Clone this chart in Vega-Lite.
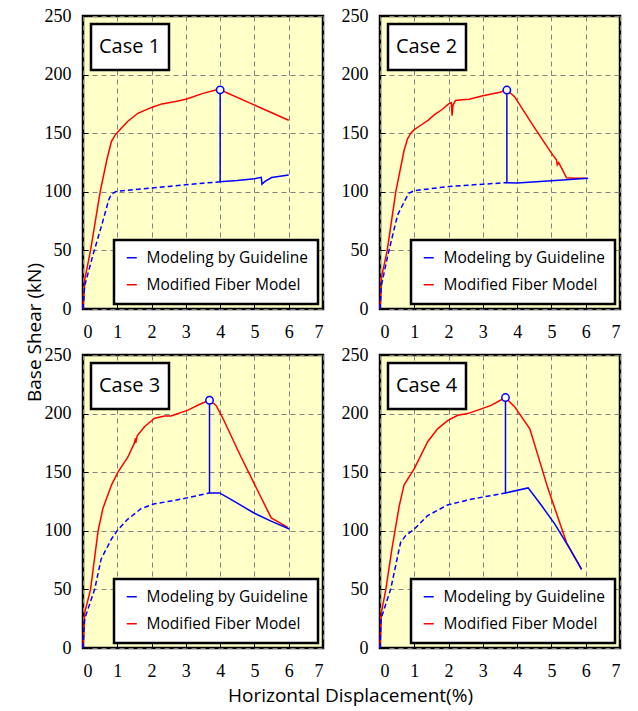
{
  "$schema": "https://vega.github.io/schema/vega-lite/v6.json",
  "background": "white",
  "padding": {"left": 23, "top": 5, "right": 5, "bottom": 5},
  "datasets": {
    "curves": [
      {"case":"Case 1","series":"Modified Fiber Model","part":"fiber","x":0,"y":0},
      {"case":"Case 1","series":"Modified Fiber Model","part":"fiber","x":0.05,"y":25},
      {"case":"Case 1","series":"Modified Fiber Model","part":"fiber","x":0.22,"y":50},
      {"case":"Case 1","series":"Modified Fiber Model","part":"fiber","x":0.5,"y":100},
      {"case":"Case 1","series":"Modified Fiber Model","part":"fiber","x":0.7,"y":128},
      {"case":"Case 1","series":"Modified Fiber Model","part":"fiber","x":0.83,"y":143},
      {"case":"Case 1","series":"Modified Fiber Model","part":"fiber","x":0.95,"y":149},
      {"case":"Case 1","series":"Modified Fiber Model","part":"fiber","x":1.05,"y":152},
      {"case":"Case 1","series":"Modified Fiber Model","part":"fiber","x":1.3,"y":160},
      {"case":"Case 1","series":"Modified Fiber Model","part":"fiber","x":1.6,"y":167},
      {"case":"Case 1","series":"Modified Fiber Model","part":"fiber","x":2.0,"y":172},
      {"case":"Case 1","series":"Modified Fiber Model","part":"fiber","x":2.3,"y":175},
      {"case":"Case 1","series":"Modified Fiber Model","part":"fiber","x":2.7,"y":177},
      {"case":"Case 1","series":"Modified Fiber Model","part":"fiber","x":3.0,"y":179},
      {"case":"Case 1","series":"Modified Fiber Model","part":"fiber","x":3.5,"y":184},
      {"case":"Case 1","series":"Modified Fiber Model","part":"fiber","x":3.9,"y":187},
      {"case":"Case 1","series":"Modified Fiber Model","part":"fiber","x":4.0,"y":187},
      {"case":"Case 1","series":"Modified Fiber Model","part":"fiber","x":6.0,"y":161},
      {"case":"Case 1","series":"Modeling by Guideline","part":"pre","x":0,"y":0},
      {"case":"Case 1","series":"Modeling by Guideline","part":"pre","x":0.05,"y":20},
      {"case":"Case 1","series":"Modeling by Guideline","part":"pre","x":0.3,"y":47},
      {"case":"Case 1","series":"Modeling by Guideline","part":"pre","x":0.55,"y":72},
      {"case":"Case 1","series":"Modeling by Guideline","part":"pre","x":0.75,"y":93},
      {"case":"Case 1","series":"Modeling by Guideline","part":"pre","x":0.83,"y":98},
      {"case":"Case 1","series":"Modeling by Guideline","part":"pre","x":0.95,"y":100},
      {"case":"Case 1","series":"Modeling by Guideline","part":"pre","x":1.0,"y":100.5},
      {"case":"Case 1","series":"Modeling by Guideline","part":"pre","x":1.5,"y":101.8},
      {"case":"Case 1","series":"Modeling by Guideline","part":"pre","x":2.0,"y":103.2},
      {"case":"Case 1","series":"Modeling by Guideline","part":"pre","x":2.5,"y":104.6},
      {"case":"Case 1","series":"Modeling by Guideline","part":"pre","x":3.0,"y":106},
      {"case":"Case 1","series":"Modeling by Guideline","part":"pre","x":3.5,"y":107.3},
      {"case":"Case 1","series":"Modeling by Guideline","part":"pre","x":4.0,"y":108.6},
      {"case":"Case 1","series":"Modeling by Guideline","part":"post","x":4.0,"y":187},
      {"case":"Case 1","series":"Modeling by Guideline","part":"post","x":4.0,"y":108.6},
      {"case":"Case 1","series":"Modeling by Guideline","part":"post","x":4.5,"y":109.7},
      {"case":"Case 1","series":"Modeling by Guideline","part":"post","x":5.0,"y":111.2},
      {"case":"Case 1","series":"Modeling by Guideline","part":"post","x":5.2,"y":112.3},
      {"case":"Case 1","series":"Modeling by Guideline","part":"post","x":5.22,"y":106.5},
      {"case":"Case 1","series":"Modeling by Guideline","part":"post","x":5.3,"y":108.6},
      {"case":"Case 1","series":"Modeling by Guideline","part":"post","x":5.5,"y":112.2},
      {"case":"Case 1","series":"Modeling by Guideline","part":"post","x":5.8,"y":113.5},
      {"case":"Case 1","series":"Modeling by Guideline","part":"post","x":6.0,"y":114.3},
      {"case":"Case 1","series":"peak","part":"peak","x":4.0,"y":187},

      {"case":"Case 2","series":"Modified Fiber Model","part":"fiber","x":0,"y":0},
      {"case":"Case 2","series":"Modified Fiber Model","part":"fiber","x":0.05,"y":28},
      {"case":"Case 2","series":"Modified Fiber Model","part":"fiber","x":0.21,"y":50},
      {"case":"Case 2","series":"Modified Fiber Model","part":"fiber","x":0.46,"y":100},
      {"case":"Case 2","series":"Modified Fiber Model","part":"fiber","x":0.7,"y":135},
      {"case":"Case 2","series":"Modified Fiber Model","part":"fiber","x":0.8,"y":145},
      {"case":"Case 2","series":"Modified Fiber Model","part":"fiber","x":0.9,"y":150},
      {"case":"Case 2","series":"Modified Fiber Model","part":"fiber","x":1.0,"y":153},
      {"case":"Case 2","series":"Modified Fiber Model","part":"fiber","x":1.2,"y":157},
      {"case":"Case 2","series":"Modified Fiber Model","part":"fiber","x":1.4,"y":161},
      {"case":"Case 2","series":"Modified Fiber Model","part":"fiber","x":1.6,"y":166},
      {"case":"Case 2","series":"Modified Fiber Model","part":"fiber","x":1.8,"y":170},
      {"case":"Case 2","series":"Modified Fiber Model","part":"fiber","x":2.0,"y":175},
      {"case":"Case 2","series":"Modified Fiber Model","part":"fiber","x":2.08,"y":176},
      {"case":"Case 2","series":"Modified Fiber Model","part":"fiber","x":2.1,"y":165},
      {"case":"Case 2","series":"Modified Fiber Model","part":"fiber","x":2.13,"y":174},
      {"case":"Case 2","series":"Modified Fiber Model","part":"fiber","x":2.2,"y":178},
      {"case":"Case 2","series":"Modified Fiber Model","part":"fiber","x":2.4,"y":178.5},
      {"case":"Case 2","series":"Modified Fiber Model","part":"fiber","x":2.6,"y":179},
      {"case":"Case 2","series":"Modified Fiber Model","part":"fiber","x":3.0,"y":182},
      {"case":"Case 2","series":"Modified Fiber Model","part":"fiber","x":3.5,"y":185},
      {"case":"Case 2","series":"Modified Fiber Model","part":"fiber","x":3.7,"y":187},
      {"case":"Case 2","series":"Modified Fiber Model","part":"fiber","x":3.93,"y":181},
      {"case":"Case 2","series":"Modified Fiber Model","part":"fiber","x":4.5,"y":155},
      {"case":"Case 2","series":"Modified Fiber Model","part":"fiber","x":5.0,"y":133},
      {"case":"Case 2","series":"Modified Fiber Model","part":"fiber","x":5.15,"y":127},
      {"case":"Case 2","series":"Modified Fiber Model","part":"fiber","x":5.17,"y":123},
      {"case":"Case 2","series":"Modified Fiber Model","part":"fiber","x":5.21,"y":125},
      {"case":"Case 2","series":"Modified Fiber Model","part":"fiber","x":5.3,"y":120},
      {"case":"Case 2","series":"Modified Fiber Model","part":"fiber","x":5.44,"y":112},
      {"case":"Case 2","series":"Modified Fiber Model","part":"fiber","x":5.7,"y":111.5},
      {"case":"Case 2","series":"Modified Fiber Model","part":"fiber","x":6.0,"y":111.5},
      {"case":"Case 2","series":"Modeling by Guideline","part":"pre","x":0,"y":0},
      {"case":"Case 2","series":"Modeling by Guideline","part":"pre","x":0.04,"y":20},
      {"case":"Case 2","series":"Modeling by Guideline","part":"pre","x":0.23,"y":46},
      {"case":"Case 2","series":"Modeling by Guideline","part":"pre","x":0.51,"y":80},
      {"case":"Case 2","series":"Modeling by Guideline","part":"pre","x":0.75,"y":94},
      {"case":"Case 2","series":"Modeling by Guideline","part":"pre","x":0.85,"y":99},
      {"case":"Case 2","series":"Modeling by Guideline","part":"pre","x":1.0,"y":101},
      {"case":"Case 2","series":"Modeling by Guideline","part":"pre","x":2.0,"y":104.5},
      {"case":"Case 2","series":"Modeling by Guideline","part":"pre","x":3.0,"y":106.5},
      {"case":"Case 2","series":"Modeling by Guideline","part":"pre","x":3.7,"y":107.8},
      {"case":"Case 2","series":"Modeling by Guideline","part":"post","x":3.7,"y":187},
      {"case":"Case 2","series":"Modeling by Guideline","part":"post","x":3.7,"y":107.8},
      {"case":"Case 2","series":"Modeling by Guideline","part":"post","x":4.0,"y":107.6},
      {"case":"Case 2","series":"Modeling by Guideline","part":"post","x":5.0,"y":109.5},
      {"case":"Case 2","series":"Modeling by Guideline","part":"post","x":6.07,"y":111.5},
      {"case":"Case 2","series":"peak","part":"peak","x":3.7,"y":186.8},

      {"case":"Case 3","series":"Modified Fiber Model","part":"fiber","x":0,"y":0},
      {"case":"Case 3","series":"Modified Fiber Model","part":"fiber","x":0.05,"y":30},
      {"case":"Case 3","series":"Modified Fiber Model","part":"fiber","x":0.22,"y":50},
      {"case":"Case 3","series":"Modified Fiber Model","part":"fiber","x":0.44,"y":100},
      {"case":"Case 3","series":"Modified Fiber Model","part":"fiber","x":0.58,"y":119},
      {"case":"Case 3","series":"Modified Fiber Model","part":"fiber","x":0.83,"y":139},
      {"case":"Case 3","series":"Modified Fiber Model","part":"fiber","x":1.02,"y":150},
      {"case":"Case 3","series":"Modified Fiber Model","part":"fiber","x":1.31,"y":163},
      {"case":"Case 3","series":"Modified Fiber Model","part":"fiber","x":1.5,"y":175},
      {"case":"Case 3","series":"Modified Fiber Model","part":"fiber","x":1.53,"y":179},
      {"case":"Case 3","series":"Modified Fiber Model","part":"fiber","x":1.54,"y":175},
      {"case":"Case 3","series":"Modified Fiber Model","part":"fiber","x":1.58,"y":181},
      {"case":"Case 3","series":"Modified Fiber Model","part":"fiber","x":1.8,"y":189},
      {"case":"Case 3","series":"Modified Fiber Model","part":"fiber","x":2.09,"y":196},
      {"case":"Case 3","series":"Modified Fiber Model","part":"fiber","x":2.38,"y":198},
      {"case":"Case 3","series":"Modified Fiber Model","part":"fiber","x":2.57,"y":198},
      {"case":"Case 3","series":"Modified Fiber Model","part":"fiber","x":3.06,"y":203},
      {"case":"Case 3","series":"Modified Fiber Model","part":"fiber","x":3.45,"y":208.6},
      {"case":"Case 3","series":"Modified Fiber Model","part":"fiber","x":3.69,"y":211.4},
      {"case":"Case 3","series":"Modified Fiber Model","part":"fiber","x":3.88,"y":207},
      {"case":"Case 3","series":"Modified Fiber Model","part":"fiber","x":4.08,"y":196},
      {"case":"Case 3","series":"Modified Fiber Model","part":"fiber","x":4.61,"y":163},
      {"case":"Case 3","series":"Modified Fiber Model","part":"fiber","x":5.15,"y":131},
      {"case":"Case 3","series":"Modified Fiber Model","part":"fiber","x":5.49,"y":111},
      {"case":"Case 3","series":"Modified Fiber Model","part":"fiber","x":5.73,"y":107},
      {"case":"Case 3","series":"Modified Fiber Model","part":"fiber","x":5.97,"y":103},
      {"case":"Case 3","series":"Modeling by Guideline","part":"pre","x":0,"y":0},
      {"case":"Case 3","series":"Modeling by Guideline","part":"pre","x":0.05,"y":25},
      {"case":"Case 3","series":"Modeling by Guideline","part":"pre","x":0.34,"y":50},
      {"case":"Case 3","series":"Modeling by Guideline","part":"pre","x":0.53,"y":76},
      {"case":"Case 3","series":"Modeling by Guideline","part":"pre","x":0.83,"y":93},
      {"case":"Case 3","series":"Modeling by Guideline","part":"pre","x":1.02,"y":101},
      {"case":"Case 3","series":"Modeling by Guideline","part":"pre","x":1.31,"y":110},
      {"case":"Case 3","series":"Modeling by Guideline","part":"pre","x":1.7,"y":119},
      {"case":"Case 3","series":"Modeling by Guideline","part":"pre","x":2.09,"y":123},
      {"case":"Case 3","series":"Modeling by Guideline","part":"pre","x":2.48,"y":125},
      {"case":"Case 3","series":"Modeling by Guideline","part":"pre","x":2.86,"y":127},
      {"case":"Case 3","series":"Modeling by Guideline","part":"pre","x":3.25,"y":129.5},
      {"case":"Case 3","series":"Modeling by Guideline","part":"pre","x":3.69,"y":132.3},
      {"case":"Case 3","series":"Modeling by Guideline","part":"post","x":3.69,"y":211.4},
      {"case":"Case 3","series":"Modeling by Guideline","part":"post","x":3.69,"y":132.3},
      {"case":"Case 3","series":"Modeling by Guideline","part":"post","x":3.98,"y":132.3},
      {"case":"Case 3","series":"Modeling by Guideline","part":"post","x":4.3,"y":127},
      {"case":"Case 3","series":"Modeling by Guideline","part":"post","x":5.0,"y":115},
      {"case":"Case 3","series":"Modeling by Guideline","part":"post","x":5.5,"y":108},
      {"case":"Case 3","series":"Modeling by Guideline","part":"post","x":6.02,"y":101.5},
      {"case":"Case 3","series":"peak","part":"peak","x":3.69,"y":211.4},

      {"case":"Case 4","series":"Modified Fiber Model","part":"fiber","x":0,"y":0},
      {"case":"Case 4","series":"Modified Fiber Model","part":"fiber","x":0.04,"y":30},
      {"case":"Case 4","series":"Modified Fiber Model","part":"fiber","x":0.17,"y":50},
      {"case":"Case 4","series":"Modified Fiber Model","part":"fiber","x":0.35,"y":85},
      {"case":"Case 4","series":"Modified Fiber Model","part":"fiber","x":0.56,"y":121},
      {"case":"Case 4","series":"Modified Fiber Model","part":"fiber","x":0.7,"y":139},
      {"case":"Case 4","series":"Modified Fiber Model","part":"fiber","x":1.0,"y":153},
      {"case":"Case 4","series":"Modified Fiber Model","part":"fiber","x":1.39,"y":176},
      {"case":"Case 4","series":"Modified Fiber Model","part":"fiber","x":1.68,"y":187},
      {"case":"Case 4","series":"Modified Fiber Model","part":"fiber","x":1.97,"y":194},
      {"case":"Case 4","series":"Modified Fiber Model","part":"fiber","x":2.27,"y":198.6},
      {"case":"Case 4","series":"Modified Fiber Model","part":"fiber","x":2.56,"y":200},
      {"case":"Case 4","series":"Modified Fiber Model","part":"fiber","x":2.85,"y":203},
      {"case":"Case 4","series":"Modified Fiber Model","part":"fiber","x":3.24,"y":207},
      {"case":"Case 4","series":"Modified Fiber Model","part":"fiber","x":3.66,"y":213.7},
      {"case":"Case 4","series":"Modified Fiber Model","part":"fiber","x":3.93,"y":205.7},
      {"case":"Case 4","series":"Modified Fiber Model","part":"fiber","x":4.37,"y":187},
      {"case":"Case 4","series":"Modified Fiber Model","part":"fiber","x":4.9,"y":136},
      {"case":"Case 4","series":"Modified Fiber Model","part":"fiber","x":5.44,"y":90},
      {"case":"Case 4","series":"Modified Fiber Model","part":"fiber","x":5.88,"y":67},
      {"case":"Case 4","series":"Modeling by Guideline","part":"pre","x":0,"y":0},
      {"case":"Case 4","series":"Modeling by Guideline","part":"pre","x":0.03,"y":25},
      {"case":"Case 4","series":"Modeling by Guideline","part":"pre","x":0.31,"y":50},
      {"case":"Case 4","series":"Modeling by Guideline","part":"pre","x":0.6,"y":90},
      {"case":"Case 4","series":"Modeling by Guideline","part":"pre","x":0.75,"y":96},
      {"case":"Case 4","series":"Modeling by Guideline","part":"pre","x":1.0,"y":101.4},
      {"case":"Case 4","series":"Modeling by Guideline","part":"pre","x":1.39,"y":113},
      {"case":"Case 4","series":"Modeling by Guideline","part":"pre","x":1.97,"y":122},
      {"case":"Case 4","series":"Modeling by Guideline","part":"pre","x":2.66,"y":127},
      {"case":"Case 4","series":"Modeling by Guideline","part":"pre","x":3.24,"y":130},
      {"case":"Case 4","series":"Modeling by Guideline","part":"pre","x":3.66,"y":132.3},
      {"case":"Case 4","series":"Modeling by Guideline","part":"post","x":3.66,"y":213.7},
      {"case":"Case 4","series":"Modeling by Guideline","part":"post","x":3.66,"y":132.3},
      {"case":"Case 4","series":"Modeling by Guideline","part":"post","x":4.32,"y":136.6},
      {"case":"Case 4","series":"Modeling by Guideline","part":"post","x":4.7,"y":122},
      {"case":"Case 4","series":"Modeling by Guideline","part":"post","x":5.1,"y":105.7},
      {"case":"Case 4","series":"Modeling by Guideline","part":"post","x":5.49,"y":87},
      {"case":"Case 4","series":"Modeling by Guideline","part":"post","x":5.88,"y":67},
      {"case":"Case 4","series":"peak","part":"peak","x":3.66,"y":213.7}
    ]
  },
  "config": {
    "font": "Open Sans",
    "view": {"stroke": "black", "strokeWidth": 2.5, "fill": "#FFFFC8"},
    "axis": {
      "labelFont": "Liberation Serif", "labelFontSize": 18, "labelColor": "black",
      "grid": true, "gridColor": "#808080", "gridDash": [5, 4], "gridWidth": 1,
      "domain": false, "tickColor": "black", "tickSize": -5, "tickWidth": 1,
      "labelPadding": 17,
      "titleFont": "Open Sans", "titleFontSize": 19, "titleFontWeight": "normal", "titleColor": "black"
    },
    "axisX": {"labelPadding": 19},
    "legend": {
      "orient": "bottom-right", "offset": 5, "padding": 10,
      "fillColor": "white", "strokeColor": "black", "strokeWidth": 2.5,
      "symbolType": "stroke", "symbolSize": 100, "symbolStrokeWidth": 1.5,
      "labelFont": "Open Sans", "labelFontSize": 15.5, "labelColor": "black",
      "labelOffset": 7, "rowPadding": 10, "labelLimit": 400, "title": null
    },
    "line": {"strokeWidth": 1.5}
  },
  "concat": [
    {
      "width": 240, "height": 293,
      "data": {"name": "curves"},
      "transform": [{"filter": "datum.case === 'Case 1'"}],
      "encoding": {
        "x": {"field": "x", "type": "quantitative", "scale": {"domain": [0, 7], "nice": false}, "axis": {"values": [0,1,2,3,4,5,6,7], "title": null}},
        "y": {"field": "y", "type": "quantitative", "scale": {"domain": [0, 250], "nice": false}, "axis": {"values": [0,50,100,150,200,250], "title": "Base Shear  (kN)", "titleX": -49, "titleY": 316, "titleAlign": "center", "titleBaseline": "middle"}}
      },
      "layer": [
        {"transform": [{"filter": "datum.part === 'fiber'"}], "mark": {"type": "line"}, "encoding": {"color": {"field": "series", "type": "nominal", "scale": {"domain": ["Modeling by Guideline", "Modified Fiber Model"], "range": ["#0000ff", "#ff0000"]}}, "order": {"value": null}}},
        {"transform": [{"filter": "datum.part === 'post'"}], "mark": {"type": "line"}, "encoding": {"color": {"field": "series", "type": "nominal"}, "order": {"value": null}}},
        {"transform": [{"filter": "datum.part === 'pre'"}], "mark": {"type": "line", "strokeDash": [5, 3]}, "encoding": {"color": {"field": "series", "type": "nominal"}, "order": {"value": null}}},
        {"transform": [{"filter": "datum.part === 'peak'"}], "mark": {"type": "point", "filled": true, "fill": "white", "stroke": "#0000ff", "strokeWidth": 1.5, "size": 55, "opacity": 1},
         "encoding": {"shape": {"field": "case", "type": "nominal", "scale": {"range": ["circle"]}, "legend": {"orient": "top-left", "offset": 8, "padding": 8, "symbolSize": 900, "symbolType": "square", "symbolOpacity": 0, "symbolStrokeWidth": 0, "labelOffset": -30, "labelFontSize": 20}}}}
      ]
    },
    {
      "width": 240, "height": 293,
      "data": {"name": "curves"},
      "transform": [{"filter": "datum.case === 'Case 2'"}],
      "encoding": {
        "x": {"field": "x", "type": "quantitative", "scale": {"domain": [0, 7], "nice": false}, "axis": {"values": [0,1,2,3,4,5,6,7], "title": null}},
        "y": {"field": "y", "type": "quantitative", "scale": {"domain": [0, 250], "nice": false}, "axis": {"values": [0,50,100,150,200,250], "title": null}}
      },
      "layer": [
        {"transform": [{"filter": "datum.part === 'fiber'"}], "mark": {"type": "line"}, "encoding": {"color": {"field": "series", "type": "nominal", "scale": {"domain": ["Modeling by Guideline", "Modified Fiber Model"], "range": ["#0000ff", "#ff0000"]}}, "order": {"value": null}}},
        {"transform": [{"filter": "datum.part === 'post'"}], "mark": {"type": "line"}, "encoding": {"color": {"field": "series", "type": "nominal"}, "order": {"value": null}}},
        {"transform": [{"filter": "datum.part === 'pre'"}], "mark": {"type": "line", "strokeDash": [5, 3]}, "encoding": {"color": {"field": "series", "type": "nominal"}, "order": {"value": null}}},
        {"transform": [{"filter": "datum.part === 'peak'"}], "mark": {"type": "point", "filled": true, "fill": "white", "stroke": "#0000ff", "strokeWidth": 1.5, "size": 55, "opacity": 1},
         "encoding": {"shape": {"field": "case", "type": "nominal", "scale": {"range": ["circle"]}, "legend": {"orient": "top-left", "offset": 8, "padding": 8, "symbolSize": 900, "symbolType": "square", "symbolOpacity": 0, "symbolStrokeWidth": 0, "labelOffset": -30, "labelFontSize": 20}}}}
      ]
    },
    {
      "width": 240, "height": 293,
      "data": {"name": "curves"},
      "transform": [{"filter": "datum.case === 'Case 3'"}],
      "encoding": {
        "x": {"field": "x", "type": "quantitative", "scale": {"domain": [0, 7], "nice": false}, "axis": {"values": [0,1,2,3,4,5,6,7], "title": "Horizontal Displacement(%)", "titleX": 267, "titleY": 47, "titleAlign": "center", "titleBaseline": "middle"}},
        "y": {"field": "y", "type": "quantitative", "scale": {"domain": [0, 250], "nice": false}, "axis": {"values": [0,50,100,150,200,250], "title": null}}
      },
      "layer": [
        {"transform": [{"filter": "datum.part === 'fiber'"}], "mark": {"type": "line"}, "encoding": {"color": {"field": "series", "type": "nominal", "scale": {"domain": ["Modeling by Guideline", "Modified Fiber Model"], "range": ["#0000ff", "#ff0000"]}}, "order": {"value": null}}},
        {"transform": [{"filter": "datum.part === 'post'"}], "mark": {"type": "line"}, "encoding": {"color": {"field": "series", "type": "nominal"}, "order": {"value": null}}},
        {"transform": [{"filter": "datum.part === 'pre'"}], "mark": {"type": "line", "strokeDash": [5, 3]}, "encoding": {"color": {"field": "series", "type": "nominal"}, "order": {"value": null}}},
        {"transform": [{"filter": "datum.part === 'peak'"}], "mark": {"type": "point", "filled": true, "fill": "white", "stroke": "#0000ff", "strokeWidth": 1.5, "size": 55, "opacity": 1},
         "encoding": {"shape": {"field": "case", "type": "nominal", "scale": {"range": ["circle"]}, "legend": {"orient": "top-left", "offset": 8, "padding": 8, "symbolSize": 900, "symbolType": "square", "symbolOpacity": 0, "symbolStrokeWidth": 0, "labelOffset": -30, "labelFontSize": 20}}}}
      ]
    },
    {
      "width": 240, "height": 293,
      "data": {"name": "curves"},
      "transform": [{"filter": "datum.case === 'Case 4'"}],
      "encoding": {
        "x": {"field": "x", "type": "quantitative", "scale": {"domain": [0, 7], "nice": false}, "axis": {"values": [0,1,2,3,4,5,6,7], "title": null}},
        "y": {"field": "y", "type": "quantitative", "scale": {"domain": [0, 250], "nice": false}, "axis": {"values": [0,50,100,150,200,250], "title": null}}
      },
      "layer": [
        {"transform": [{"filter": "datum.part === 'fiber'"}], "mark": {"type": "line"}, "encoding": {"color": {"field": "series", "type": "nominal", "scale": {"domain": ["Modeling by Guideline", "Modified Fiber Model"], "range": ["#0000ff", "#ff0000"]}}, "order": {"value": null}}},
        {"transform": [{"filter": "datum.part === 'post'"}], "mark": {"type": "line"}, "encoding": {"color": {"field": "series", "type": "nominal"}, "order": {"value": null}}},
        {"transform": [{"filter": "datum.part === 'pre'"}], "mark": {"type": "line", "strokeDash": [5, 3]}, "encoding": {"color": {"field": "series", "type": "nominal"}, "order": {"value": null}}},
        {"transform": [{"filter": "datum.part === 'peak'"}], "mark": {"type": "point", "filled": true, "fill": "white", "stroke": "#0000ff", "strokeWidth": 1.5, "size": 55, "opacity": 1},
         "encoding": {"shape": {"field": "case", "type": "nominal", "scale": {"range": ["circle"]}, "legend": {"orient": "top-left", "offset": 8, "padding": 8, "symbolSize": 900, "symbolType": "square", "symbolOpacity": 0, "symbolStrokeWidth": 0, "labelOffset": -30, "labelFontSize": 20}}}}
      ]
    }
  ],
  "columns": 2,
  "spacing": {"row": 46, "column": 57},
  "bounds": "flush",
  "resolve": {
    "scale": {"shape": "independent", "color": "independent"},
    "legend": {"shape": "independent", "color": "independent"}
  }
}
